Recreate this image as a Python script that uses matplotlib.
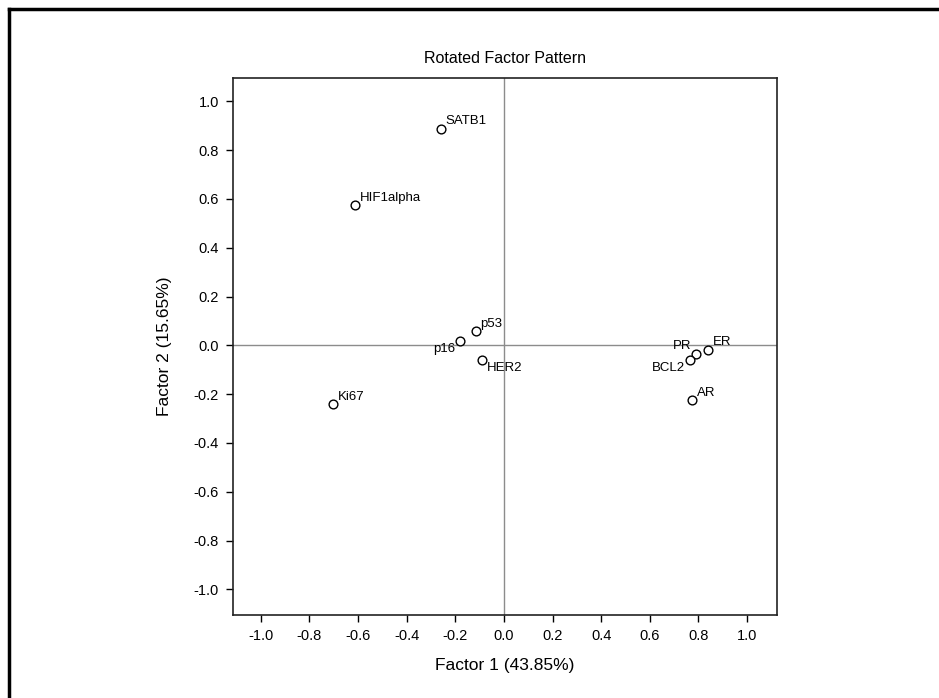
import matplotlib
matplotlib.use('Agg')
import matplotlib.pyplot as plt
from matplotlib.lines import Line2D

plt.rcParams['font.family'] = ['Liberation Sans', 'DejaVu Sans']

# factor loadings
names = ['SATB1', 'HIF1alpha', 'p53', 'p16', 'HER2', 'Ki67', 'ER', 'PR', 'BCL2', 'AR']
factor1 = [-0.260, -0.611, -0.117, -0.182, -0.089, -0.702, 0.840, 0.791, 0.764, 0.775]
factor2 = [0.888, 0.574, 0.059, 0.018, -0.061, -0.242, -0.018, -0.035, -0.062, -0.225]

# label placement (offset in points, alignment)
label_pos = {
    'p16': ((-3.5, -1.5), 'right', 'top'),
    'HER2': ((3.5, -1.5), 'left', 'top'),
    'PR': ((-3.5, 1), 'right', 'bottom'),
    'BCL2': ((-3.5, -1), 'right', 'top'),
}

xticks = [-1.0, -0.8, -0.6, -0.4, -0.2, 0.0, 0.2, 0.4, 0.6, 0.8, 1.0]
yticks = [-1.0, -0.8, -0.6, -0.4, -0.2, 0.0, 0.2, 0.4, 0.6, 0.8, 1.0]

fig = plt.figure(figsize=(9.39, 6.98), dpi=100)
ax = fig.add_axes([0.248, 0.119, 0.580, 0.769])

ax.axhline(0, color='#8c8c8c', lw=1, zorder=1)
ax.axvline(0, color='#8c8c8c', lw=1, zorder=1)
ax.plot(factor1, factor2, 'o', mfc='white', mec='black', mew=1.0, ms=6.3, zorder=3)

for n, x, y in zip(names, factor1, factor2):
    off, ha, va = label_pos.get(n, ((3.5, 1), 'left', 'bottom'))
    ax.annotate(n, (x, y), xytext=off, textcoords='offset points',
                ha=ha, va=va, fontsize=9.5, color='black')

ax.set_xlim(-1.115, 1.125)
ax.set_ylim(-1.105, 1.095)
ax.set_xticks(xticks)
ax.set_yticks(yticks)
ax.set_xticklabels(['%.1f' % t for t in xticks])
ax.set_yticklabels(['%.1f' % t for t in yticks])
ax.tick_params(direction='out', length=5, width=1, labelsize=10.5, pad=5, color='black')
for s in ax.spines.values():
    s.set_linewidth(1.2)
    s.set_color('#222222')

ax.set_title('Rotated Factor Pattern', fontsize=11.5, pad=11)
ax.set_xlabel('Factor 1 (43.85%)', fontsize=12.5, labelpad=11)
ax.set_ylabel('Factor 2 (15.65%)', fontsize=12.5, labelpad=16)

# frame at left and top edge
fig.add_artist(Line2D([0.0095, 0.0095], [0, 0.9875], transform=fig.transFigure, color='black', lw=2.5))
fig.add_artist(Line2D([0.0095, 1.0], [0.9875, 0.9875], transform=fig.transFigure, color='black', lw=2.5))

fig.savefig('out.png', dpi=100)
